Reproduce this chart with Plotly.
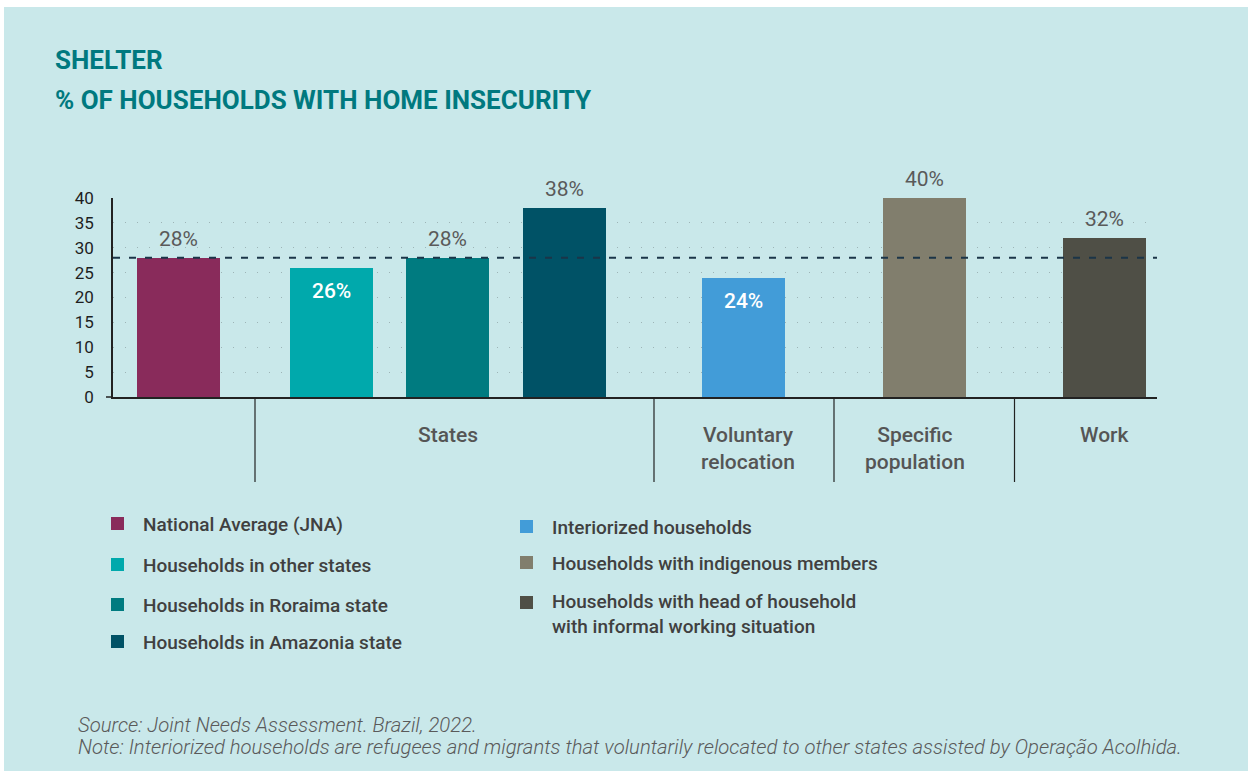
import plotly.graph_objects as go

# ---------------- data ----------------
series = [
    "National Average (JNA)",
    "Households in other states",
    "Households in Roraima state",
    "Households in Amazonia state",
    "Interiorized households",
    "Households with indigenous members",
    "Households with head of household<br>with informal working situation",
]
groups = ["", "States", "States", "States",
          "Voluntary<br>relocation", "Specific<br>population", "Work"]
values = [28, 26, 28, 38, 24, 40, 32]
national_avg = 28
y_ticks = [0, 5, 10, 15, 20, 25, 30, 35, 40]
colors = ["#892B5B", "#00A9AC", "#007B80", "#005266",
          "#429CD8", "#817E6D", "#4F4F46"]

title_lines = ["SHELTER", "% OF HOUSEHOLDS WITH HOME INSECURITY"]
source_lines = [
    "Source: Joint Needs Assessment. Brazil, 2022.",
    "Note: Interiorized households are refugees and migrants that voluntarily relocated to other states assisted by Operação Acolhida.",
]

# ---------------- layout helpers ----------------
W, H = 1248, 771
PL, PR, PT, PB = 113, 1157, 198, 397          # plot area in pixels
x_pos = [0.655, 2.185, 3.345, 4.515, 6.305, 8.115, 9.915]
x_range = [0, (PR - PL) / 100]
bar_w = 0.83
group_label_shift = {"Voluntary<br>relocation": 0.04, "Specific<br>population": -0.1}


def px_x(p):
    return (p - PL) / (PR - PL)


def px_y(p):
    return (PB - p) / (PB - PT)


ROBOTO = "Roboto, 'Liberation Sans', sans-serif"

fig = go.Figure()
fig.add_trace(go.Bar(
    x=x_pos, y=values, width=bar_w,
    marker=dict(color=colors, line=dict(width=0)),
    showlegend=False, hoverinfo="skip",
))

shapes = []
annotations = []

# data labels
for x, v in zip(x_pos, values):
    inside = v < national_avg
    annotations.append(dict(
        x=x, y=v, xref="x", yref="y", text=f"{v}%", showarrow=False,
        yshift=-23 if inside else 19,
        font=dict(family=ROBOTO, size=21,
                  color="#FFFFFF" if inside else "#5A5A5A",
                  weight=500 if inside else 400),
    ))

# national average dashed line
shapes.append(dict(type="line", xref="paper", yref="y", x0=0, x1=1,
                   y0=national_avg, y1=national_avg, layer="above",
                   line=dict(color="#1B3548", width=2, dash="7px,9px")))

# group separators and labels
grp_order = []
for g in groups:
    if g not in grp_order:
        grp_order.append(g)
for gi, g in enumerate(grp_order):
    idx = [i for i, gg in enumerate(groups) if gg == g]
    if gi > 0:
        prev_last = max(i for i, gg in enumerate(groups) if gg == grp_order[gi - 1])
        sep = (x_pos[prev_last] + x_pos[idx[0]]) / 2
        shapes.append(dict(type="line", xref="x", yref="paper", x0=sep, x1=sep,
                           y0=0, y1=px_y(482), line=dict(color="#222222", width=1.2)))
    if g:
        cx = sum(x_pos[i] for i in idx) / len(idx) + group_label_shift.get(g, 0)
        annotations.append(dict(
            x=cx, y=px_y(421), xref="x", yref="paper", text=g, showarrow=False,
            yanchor="top", align="center",
            font=dict(family=ROBOTO, size=21, color="#555555", weight=500),
        ))

# base tick stub at 0
shapes.append(dict(type="line", xref="paper", yref="paper", x0=px_x(106), x1=0,
                   y0=0, y1=0, line=dict(color="#222222", width=1.5)))

# legend (two columns)
legend_cols = [
    (111, 141, [524, 565, 605, 642]),
    (520, 550, [527, 563, 603]),
]
k = 0
for sq_x, tx, rows in legend_cols:
    for ry in rows:
        sq = 13
        shapes.append(dict(type="rect", xref="paper", yref="paper",
                           x0=px_x(sq_x), x1=px_x(sq_x + sq),
                           y0=px_y(ry - 7), y1=px_y(ry + 6),
                           fillcolor=colors[k], line=dict(width=0)))
        n_lines = series[k].count("<br>") + 1
        annotations.append(dict(
            x=px_x(tx), y=px_y(ry - 13 - 2 * (n_lines - 1)), xref="paper", yref="paper",
            text=series[k], showarrow=False, xanchor="left", yanchor="top",
            align="left",
            font=dict(family=ROBOTO, size=19, color="#404040", weight=500),
        ))
        k += 1

# title
for i, t in enumerate(title_lines):
    annotations.append(dict(
        x=px_x(53), y=px_y(43 + 40 * i), xref="paper", yref="paper", text=t,
        showarrow=False, xanchor="left", yanchor="top",
        font=dict(family=ROBOTO, size=26, color="#00797F", weight=700),
    ))

# source / note
for i, t in enumerate(source_lines):
    annotations.append(dict(
        x=px_x(76), y=px_y(711 + 22 * i), xref="paper", yref="paper",
        text=f"<i>{t}</i>", showarrow=False, xanchor="left", yanchor="top",
        font=dict(family=ROBOTO, size=20.3, color="#5A5A5A", weight=300),
    ))

# white border strips (top / left)
shapes.append(dict(type="rect", xref="paper", yref="paper", layer="below",
                   x0=px_x(0), x1=px_x(W), y0=px_y(0), y1=px_y(7),
                   fillcolor="#FFFFFF", line=dict(width=0)))
shapes.append(dict(type="rect", xref="paper", yref="paper", layer="below",
                   x0=px_x(0), x1=px_x(4), y0=px_y(0), y1=px_y(H),
                   fillcolor="#FFFFFF", line=dict(width=0)))

fig.update_layout(
    width=W, height=H,
    margin=dict(l=PL, r=W - PR, t=PT, b=H - PB, pad=0),
    paper_bgcolor="#C9E8EA", plot_bgcolor="rgba(0,0,0,0)",
    shapes=shapes, annotations=annotations,
    bargap=0,
    xaxis=dict(range=x_range, showgrid=False, zeroline=False, showticklabels=False,
               showline=True, linecolor="#222222", linewidth=1.5, ticks="",
               fixedrange=True),
    yaxis=dict(range=[0, 40], tickvals=y_ticks, ticktext=[str(t) for t in y_ticks],
               showgrid=True, gridcolor="#9DB4B6", gridwidth=1, griddash="1px,11px",
               zeroline=False, showline=True, linecolor="#222222", linewidth=1.5,
               ticks="", ticklabelstandoff=14,
               tickfont=dict(family=ROBOTO, size=17, color="#1E1E1E"),
               fixedrange=True),
    showlegend=False,
)

fig.write_html(
    "out.html",
    config={"displayModeBar": False},
    post_script="document.body.style.margin='0';document.body.style.overflow='hidden';",
)
